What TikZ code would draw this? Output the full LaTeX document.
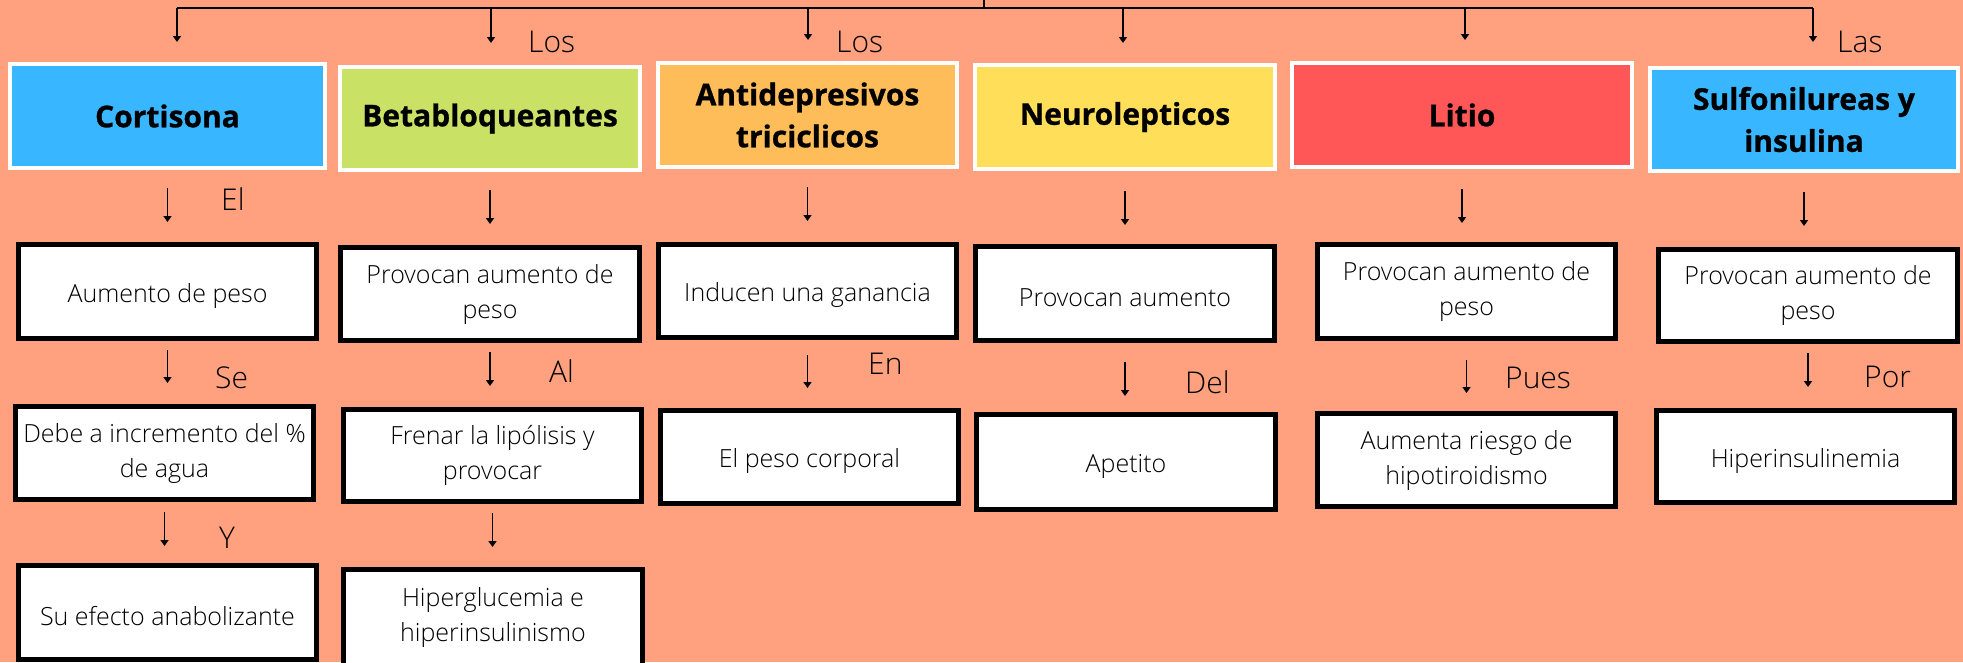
\documentclass[tikz,border=0pt]{standalone}
\usepackage{fontspec}
\setmainfont{Open Sans}
\newfontfamily\lightfont{Open Sans Light}
\newfontfamily\heavyfont[FakeBold=0.8]{Open Sans Bold}
\usetikzlibrary{arrows.meta}
\definecolor{bg}{HTML}{FFA17F}
\definecolor{cblue}{HTML}{38B6FF}
\definecolor{cgreen}{HTML}{C9E265}
\definecolor{corange}{HTML}{FFBD59}
\definecolor{cyellow}{HTML}{FFDE59}
\definecolor{cred}{HTML}{FF5757}
\newcommand\conn[4]{\draw[arr, shorten <=#3pt, shorten >=#4pt] (#1.south) -- (#1.south |- #2.north);}
\begin{document}
\begin{tikzpicture}[x=1pt,y=-1pt,
  head/.style={draw=white, line width=4pt, inner sep=0pt, outer sep=0pt, align=center, font=\heavyfont\fontsize{30}{42}\selectfont},
  leaf/.style={draw=black, fill=white, line width=5pt, inner sep=0pt, outer sep=0pt, align=center, font=\lightfont\fontsize{25}{35}\selectfont, execute at begin node={\rule{0pt}{27pt}}},
  lbl/.style={anchor=base west, inner sep=0pt, font=\lightfont\fontsize{30}{36}\selectfont},
  line/.style={line width=1.8pt},
  arr/.style={line width=1.8pt, -{Triangle[length=6pt,width=8pt]}}]
\useasboundingbox (0,0) rectangle (1963,662);
\fill[bg] (0,0) rectangle (1963,662);

% header boxes
\node[head, fill=cblue, minimum width=315pt, minimum height=104pt] (cort) at (167.5,116) {Cortisona};
\node[head, fill=cgreen, minimum width=300pt, minimum height=103pt] (beta) at (490,118.5) {Betabloqueantes};
\node[head, fill=corange, minimum width=299pt, minimum height=104pt] (anti) at (807.5,115) {Antidepresivos\\triciclicos};
\node[head, fill=cyellow, minimum width=300pt, minimum height=104pt] (neuro) at (1125,117) {Neurolepticos};
\node[head, fill=cred, minimum width=340pt, minimum height=104pt] (litio) at (1462,115) {Litio};
\node[head, fill=cblue, minimum width=308pt, minimum height=103pt] (sulf) at (1804,119.5) {Sulfonilureas y\\insulina};

% leaf boxes
\node[leaf, minimum width=298pt, minimum height=94pt] (c1) at (167.5,291.5) {Aumento de peso};
\node[leaf, minimum width=298pt, minimum height=93pt] (c2) at (164.5,453) {Debe a incremento del \%\\de agua};
\node[leaf, minimum width=298pt, minimum height=94pt] (c3) at (167.5,612.5) {Su efecto anabolizante};
\node[leaf, minimum width=299pt, minimum height=93pt] (b1) at (490,294) {Provocan aumento de\\peso};
\node[leaf, minimum width=298pt, minimum height=92pt] (b2) at (492.5,455.5) {Frenar la lipólisis y\\provocar};
\node[leaf, minimum width=299pt, minimum height=96pt] (b3) at (493,617.5) {Hiperglucemia e\\hiperinsulinismo};
\node[leaf, minimum width=298pt, minimum height=93pt] (a1) at (807.5,291) {Inducen una ganancia};
\node[leaf, minimum width=298pt, minimum height=93pt] (a2) at (809.5,457) {El peso corporal};
\node[leaf, minimum width=299pt, minimum height=94pt] (n1) at (1125,293.5) {Provocan aumento};
\node[leaf, minimum width=299pt, minimum height=95pt] (n2) at (1126,462) {Apetito};
\node[leaf, minimum width=298pt, minimum height=94pt] (l1) at (1466.5,291.5) {Provocan aumento de\\peso};
\node[leaf, minimum width=298pt, minimum height=93pt] (l2) at (1466.5,460) {Aumenta riesgo de\\hipotiroidismo};
\node[leaf, minimum width=299pt, minimum height=92pt] (s1) at (1808,295.5) {Provocan aumento de\\peso};
\node[leaf, minimum width=298pt, minimum height=92pt] (s2) at (1805.5,456.5) {Hiperinsulinemia};

% top tree
\coordinate (top) at (984,0);
\coordinate (j1) at (177,8);
\coordinate (j2) at (491,8);
\coordinate (j3) at (808,8);
\coordinate (j4) at (1123,8);
\coordinate (j5) at (1465,8);
\coordinate (j6) at (1813,8);
\draw[line] (top) -- (top |- j1);
\draw[line] (j1) -- (j6);
\draw[arr, shorten >=22pt] (j1) -- (j1 |- cort.north);
\draw[arr, shorten >=24pt] (j2) -- (j2 |- beta.north);
\draw[arr, shorten >=23pt] (j3) -- (j3 |- anti.north);
\draw[arr, shorten >=22pt] (j4) -- (j4 |- neuro.north);
\draw[arr, shorten >=23pt] (j5) -- (j5 |- litio.north);
\draw[arr, shorten >=26pt] (j6) -- (j6 |- sulf.north);

% column connectors
\conn{cort}{c1}{20}{22.5}
\conn{c1}{c2}{11.5}{23.5}
\conn{c2}{c3}{12.5}{19.5}
\conn{beta}{b1}{20}{23.5}
\conn{b1}{b2}{11.5}{23.5}
\conn{b2}{b3}{11.5}{22.5}
\conn{anti}{a1}{20}{23.5}
\conn{a1}{a2}{17.5}{22.5}
\conn{neuro}{n1}{22}{21.5}
\conn{n1}{n2}{21.5}{18.5}
\conn{litio}{l1}{22}{21.5}
\conn{l1}{l2}{21.5}{20.5}
\conn{sulf}{s1}{21}{23.5}
\conn{s1}{s2}{11.5}{23.5}

% labels
\node[lbl] (t1) at (528,52) {Los};
\node[lbl] (t2) at (836,52) {Los};
\node[lbl] (t3) at (1837,52) {Las};
\node[lbl] (t4) at (221,210) {El};
\node[lbl] (t5) at (215,388) {Se};
\node[lbl] (t6) at (219,548) {Y};
\node[lbl] (t7) at (549,382) {Al};
\node[lbl] (t8) at (868,374) {En};
\node[lbl] (t9) at (1185,393) {Del};
\node[lbl] (t10) at (1505,388) {Pues};
\node[lbl] (t11) at (1864,387) {Por};
\end{tikzpicture}
\end{document}
